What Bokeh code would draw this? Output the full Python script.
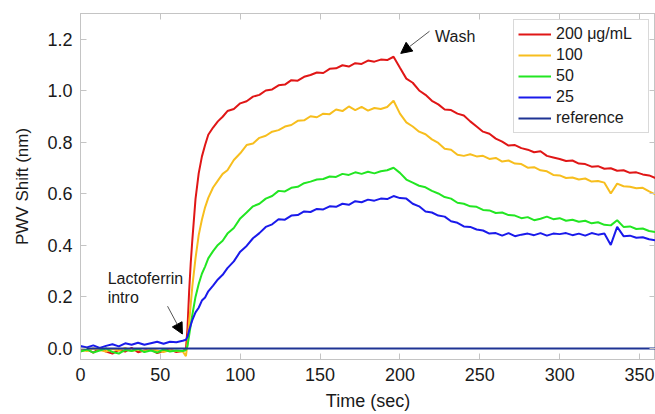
from bokeh.plotting import figure
from bokeh.models import (Range1d, LinearAxis, FixedTicker, NumeralTickFormatter,
                          CustomJSTickFormatter, Arrow, NormalHead, Label, Legend, LegendItem)
from bokeh.embed import file_html
from bokeh.resources import INLINE

# ---------------- data ----------------
time_s = [0, 4, 8, 12, 16, 20, 24, 28, 32, 36, 40, 44, 48, 52, 56, 60, 64,
          66, 67, 68, 69, 70, 72, 74, 76, 78, 80, 83, 86, 89, 92, 96,
          100, 104, 108, 112, 116, 120, 124, 128, 132, 136, 140, 144, 148, 152, 156, 160,
          164, 168, 172, 176, 180, 184, 188, 192, 196,
          200, 204, 208, 212, 216, 220, 224, 228, 232, 236, 240, 244, 248, 252, 256, 260,
          264, 268, 272, 276, 280, 284, 288, 292, 296,
          300, 304, 308, 312, 316, 320, 324, 328, 332, 336, 340, 344, 348, 352, 356, 360]

shift_200 = [-0.010, -0.004, -0.016, 0.000, -0.012, -0.020, -0.006, -0.012, 0.002, -0.015, -0.008, -0.004, -0.018, -0.010, -0.004, -0.014, -0.010,
             -0.004, 0.08, 0.22, 0.33, 0.42, 0.58, 0.68, 0.745, 0.79, 0.83, 0.858, 0.882, 0.900, 0.922, 0.930,
             0.952, 0.960, 0.978, 0.985, 1.002, 1.006, 1.022, 1.025, 1.042, 1.040, 1.055, 1.062, 1.072, 1.070, 1.086, 1.088,
             1.100, 1.095, 1.108, 1.105, 1.118, 1.114, 1.122, 1.120, 1.133,
             1.090, 1.048, 1.032, 1.002, 0.985, 0.962, 0.948, 0.928, 0.926, 0.912, 0.905, 0.882, 0.862, 0.842, 0.834, 0.815,
             0.803, 0.788, 0.790, 0.778, 0.772, 0.762, 0.766, 0.748, 0.742,
             0.736, 0.728, 0.730, 0.718, 0.716, 0.706, 0.708, 0.698, 0.700, 0.690, 0.692, 0.682, 0.684, 0.676, 0.672, 0.662]

shift_100 = [-0.004, -0.010, 0.000, -0.006, -0.012, -0.002, -0.008, 0.002, -0.010, -0.004, -0.012, -0.002, -0.008, -0.014, -0.006, -0.010, -0.012,
             -0.030, 0.02, 0.10, 0.17, 0.24, 0.35, 0.44, 0.50, 0.548, 0.585, 0.625, 0.652, 0.678, 0.692, 0.732,
             0.758, 0.790, 0.796, 0.818, 0.826, 0.842, 0.848, 0.862, 0.868, 0.884, 0.886, 0.902, 0.898, 0.912, 0.910, 0.928,
             0.922, 0.940, 0.926, 0.938, 0.924, 0.934, 0.930, 0.938, 0.962,
             0.912, 0.878, 0.862, 0.842, 0.832, 0.812, 0.798, 0.776, 0.772, 0.752, 0.748, 0.754, 0.746, 0.748, 0.736, 0.740,
             0.726, 0.730, 0.718, 0.716, 0.702, 0.704, 0.692, 0.688, 0.674,
             0.672, 0.662, 0.664, 0.656, 0.660, 0.648, 0.650, 0.644, 0.602, 0.640, 0.630, 0.628, 0.622, 0.624, 0.610, 0.598]

shift_50 = [-0.012, -0.004, -0.016, -0.008, 0.000, -0.014, -0.020, -0.006, -0.010, -0.002, -0.014, -0.008, -0.016, -0.004, -0.012, -0.008, -0.010,
            -0.006, 0.010, 0.05, 0.09, 0.13, 0.20, 0.25, 0.29, 0.318, 0.35, 0.378, 0.402, 0.418, 0.446, 0.468,
            0.505, 0.528, 0.552, 0.562, 0.582, 0.592, 0.612, 0.610, 0.624, 0.628, 0.642, 0.648, 0.656, 0.658, 0.668, 0.666,
            0.678, 0.674, 0.684, 0.678, 0.686, 0.680, 0.688, 0.692, 0.702,
            0.682, 0.656, 0.644, 0.632, 0.626, 0.612, 0.602, 0.588, 0.582, 0.566, 0.562, 0.552, 0.550, 0.538, 0.536, 0.526,
            0.528, 0.518, 0.516, 0.506, 0.510, 0.498, 0.504, 0.512, 0.502,
            0.506, 0.496, 0.500, 0.492, 0.496, 0.486, 0.490, 0.480, 0.478, 0.498, 0.472, 0.474, 0.464, 0.466, 0.456, 0.452]

shift_25 = [0.010, 0.004, 0.012, 0.002, 0.010, 0.016, 0.008, 0.020, 0.014, 0.022, 0.014, 0.020, 0.026, 0.018, 0.026, 0.024, 0.030,
            0.034, 0.045, 0.070, 0.090, 0.110, 0.140, 0.158, 0.186, 0.198, 0.222, 0.244, 0.268, 0.286, 0.312, 0.338,
            0.376, 0.398, 0.428, 0.448, 0.472, 0.482, 0.502, 0.500, 0.516, 0.518, 0.532, 0.530, 0.542, 0.540, 0.552, 0.550,
            0.562, 0.558, 0.572, 0.568, 0.578, 0.574, 0.582, 0.580, 0.592,
            0.584, 0.582, 0.562, 0.552, 0.532, 0.528, 0.516, 0.512, 0.494, 0.488, 0.474, 0.472, 0.462, 0.458, 0.446, 0.448,
            0.438, 0.448, 0.436, 0.442, 0.446, 0.440, 0.448, 0.438, 0.446,
            0.444, 0.448, 0.440, 0.446, 0.438, 0.448, 0.442, 0.446, 0.402, 0.472, 0.436, 0.438, 0.430, 0.432, 0.424, 0.420]

ref_time = [0, 360]
ref_shift = [0.0, 0.0]

series_labels = ["200 \u03bcg/mL", "100", "50", "25", "reference"]
series_colors = ["#e01616", "#f7be1e", "#22e622", "#1a1aeb", "#1f3494"]

x_ticks = [0, 50, 100, 150, 200, 250, 300, 350]
y_ticks = [0.0, 0.2, 0.4, 0.6, 0.8, 1.0, 1.2]

FONT = "Liberation Sans"
AXIS_GRAY = "#c4c4c4"
TEXT = "#1a1a1a"

p = figure(width=655, height=414, output_backend="svg", toolbar_location=None,
           x_range=Range1d(0, 360), y_range=Range1d(-0.043, 1.301),
           min_border_left=80, min_border_top=13, min_border_right=0, min_border_bottom=55)
p.xgrid.visible = False
p.ygrid.visible = False
p.outline_line_color = AXIS_GRAY
p.background_fill_color = "white"
p.border_fill_color = "white"

for ax, ticks in ((p.xaxis[0], x_ticks), (p.yaxis[0], y_ticks)):
    ax.ticker = FixedTicker(ticks=ticks)
    ax.axis_line_color = AXIS_GRAY
    ax.major_tick_line_color = AXIS_GRAY
    ax.major_tick_in = 6
    ax.major_tick_out = 0
    ax.minor_tick_line_color = None
    ax.major_label_text_font = FONT
    ax.major_label_text_font_size = "18px"
    ax.major_label_text_color = TEXT
    ax.axis_label_text_font = FONT
    ax.axis_label_text_font_style = "normal"
    ax.axis_label_text_color = TEXT

p.yaxis[0].formatter = NumeralTickFormatter(format="0.0")
p.xaxis[0].axis_label = "Time (sec)"
p.yaxis[0].axis_label = "PWV Shift (nm)"
p.xaxis[0].axis_label_text_font_size = "18px"
p.yaxis[0].axis_label_text_font_size = "17px"
p.xaxis[0].major_label_standoff = 8
p.yaxis[0].major_label_standoff = 8
p.xaxis[0].axis_label_standoff = 7
p.yaxis[0].axis_label_standoff = 12

for loc, ticks in (("above", x_ticks), ("right", y_ticks)):
    ax = LinearAxis(ticker=FixedTicker(ticks=ticks),
                    formatter=CustomJSTickFormatter(code="return ''"),
                    axis_line_color=AXIS_GRAY, major_tick_line_color=AXIS_GRAY,
                    major_tick_in=6, major_tick_out=0, minor_tick_line_color=None,
                    major_label_standoff=0, major_label_text_font_size="1px")
    p.add_layout(ax, loc)

renderers = []
for vals, col in zip([shift_200, shift_100, shift_50, shift_25], series_colors[:4]):
    renderers.append(p.line(time_s, vals, line_color=col, line_width=2))
renderers.append(p.line(ref_time, ref_shift, line_color=series_colors[4], line_width=2))

legend = Legend(items=[LegendItem(label=lab, renderers=[r]) for lab, r in zip(series_labels, renderers)],
                location="top_right", label_text_font=FONT, label_text_font_size="16px",
                label_text_color=TEXT, glyph_width=33, glyph_height=20, label_height=20,
                label_width=88, spacing=1, padding=4, margin=6, label_standoff=5,
                border_line_color="#b4b4b4", border_line_width=1, background_fill_alpha=1.0)
p.add_layout(legend)

# annotations
p.add_layout(Arrow(end=NormalHead(size=11, fill_color="black", line_color="black"),
                   x_start=218.5, y_start=1.232, x_end=200.5, y_end=1.146,
                   line_color="#555555", line_width=1))
p.add_layout(Label(x=222, y=1.212, text="Wash", text_font=FONT, text_font_size="16px",
                   text_color=TEXT, text_baseline="middle"))

p.add_layout(Arrow(end=NormalHead(size=11, fill_color="black", line_color="black"),
                   x_start=54.5, y_start=0.164, x_end=63.8, y_end=0.056,
                   line_color="#555555", line_width=1))
p.add_layout(Label(x=17, y=0.272, text="Lactoferrin", text_font=FONT, text_font_size="16px",
                   text_color=TEXT, text_baseline="middle"))
p.add_layout(Label(x=17, y=0.196, text="intro", text_font=FONT, text_font_size="16px",
                   text_color=TEXT, text_baseline="middle"))

open("out.html", "w").write(file_html(p, INLINE))
